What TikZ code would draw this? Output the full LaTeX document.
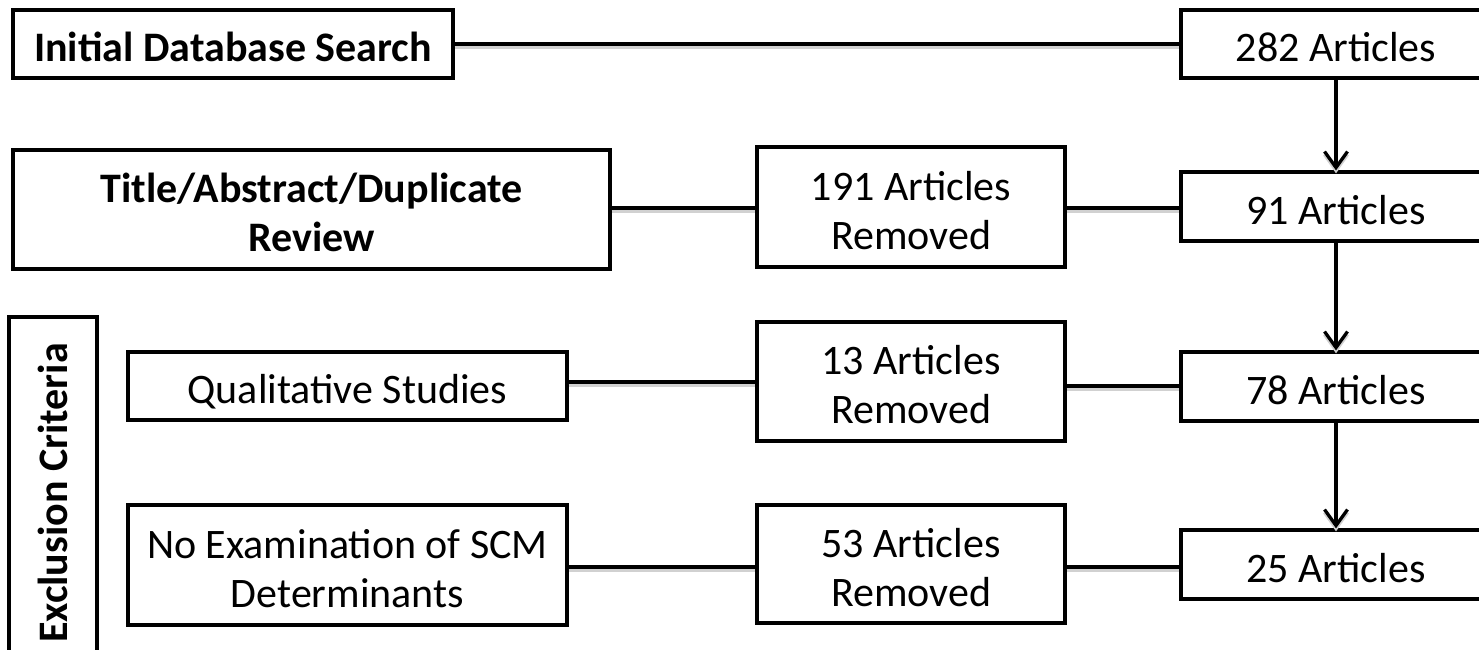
\documentclass[tikz,border=0pt]{standalone}
\usepackage{fontspec}
\setmainfont{Carlito}
\usetikzlibrary{arrows.meta}

% centred box text, set slightly below the geometric middle
\newcommand\boxtext[1]{\raisebox{-8pt}[\height][\depth]{\begin{tabular}{@{}c@{}}#1\end{tabular}}}

\tikzset{
  box/.style={draw=black, line width=3.3pt, fill=white, inner sep=0pt,
    align=center, font=\fontsize{42}{49}\selectfont},
  boldbox/.style={box, font=\fontsize{42}{49}\selectfont\bfseries},
  link/.style={line width=3.3pt,
    preaction={draw=black!18, line width=3pt, transform canvas={yshift=-3pt}}},
  flow/.style={link, -{Straight Barb[length=16pt,width=23pt,line width=3.3pt]}},
}

\begin{document}
\begin{tikzpicture}[x=1pt, y=-1pt]
  \useasboundingbox (0,0) rectangle (1479,649);
  \clip (0,0) rectangle (1479,649);

  % left column: stages of the search
  \node[boldbox, minimum width=440pt, minimum height=68pt] (init) at (233,44) {\boxtext{Initial Database Search}};
  \node[boldbox, minimum width=597pt, minimum height=119pt] (title) at (311.5,209.5) {\boxtext{Title/Abstract/Duplicate\\Review}};
  \node[boldbox, rotate=90, minimum width=342pt, minimum height=88pt] (excl) at (53,488) {Exclusion Criteria\hspace*{10pt}};
  \node[box, minimum width=439pt, minimum height=68pt] (qual) at (347.5,386) {\boxtext{Qualitative Studies}};
  \node[box, minimum width=439pt, minimum height=120pt] (noexam) at (347.5,565) {\boxtext{No Examination of SCM\\Determinants}};

  % middle column: removed articles
  \node[box, minimum width=308pt, minimum height=120pt] (r191) at (911,207) {\boxtext{191 Articles\\Removed}};
  \node[box, minimum width=308pt, minimum height=119pt] (r13) at (911,381.5) {\boxtext{13 Articles\\Removed}};
  \node[box, minimum width=308pt, minimum height=118pt] (r53) at (911,564) {\boxtext{53 Articles\\Removed}};

  % right column: remaining articles
  \node[box, minimum width=310pt, minimum height=68pt] (a282) at (1336,44) {\boxtext{282 Articles}};
  \node[box, minimum width=310pt, minimum height=69pt] (a91) at (1336,206.5) {\boxtext{91 Articles}};
  \node[box, minimum width=310pt, minimum height=69pt] (a78) at (1336,386.5) {\boxtext{78 Articles}};
  \node[box, minimum width=310pt, minimum height=69pt] (a25) at (1336,564.5) {\boxtext{25 Articles}};

  % horizontal connectors
  \draw[link] (init.east) -- (a282.west);
  \draw[link] (title.east |- 0,208) -- (r191.west |- 0,208);
  \draw[link] (r191.east |- 0,208) -- (a91.west |- 0,208);
  \draw[link] (qual.east |- 0,382) -- (r13.west |- 0,382);
  \draw[link] (r13.east |- 0,386) -- (a78.west |- 0,386);
  \draw[link] (noexam.east |- 0,567) -- (r53.west |- 0,567);
  \draw[link] (r53.east |- 0,567) -- (a25.west |- 0,567);

  % vertical flow arrows
  \draw[flow] (a282.south) -- (a91.north);
  \draw[flow] (a91.south) -- (a78.north);
  \draw[flow] (a78.south) -- (a25.north);
\end{tikzpicture}
\end{document}
